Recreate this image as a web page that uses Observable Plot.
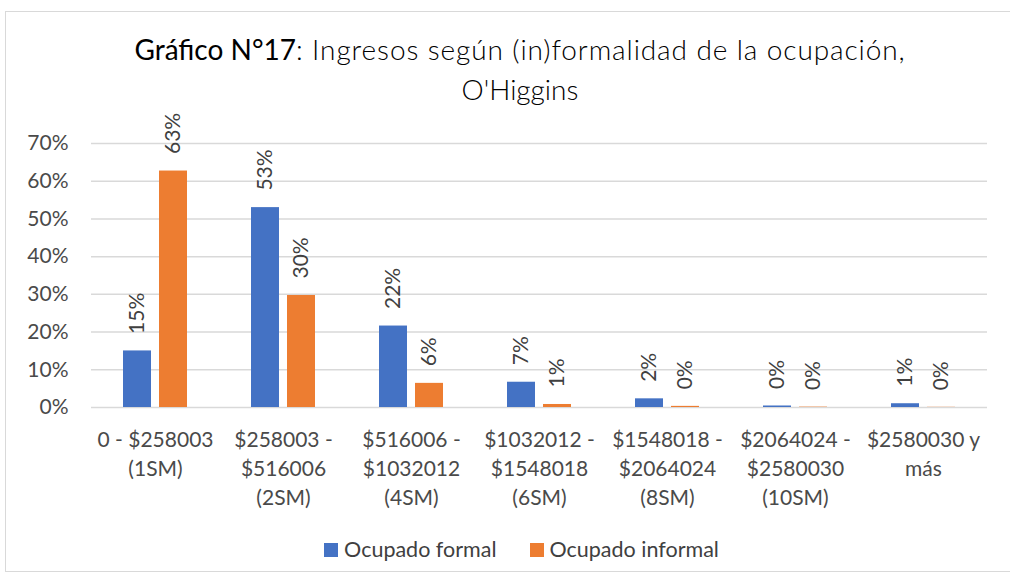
<!DOCTYPE html>
<html><head><meta charset="utf-8">
<script src="https://cdn.jsdelivr.net/npm/d3@7"></script>
<script src="https://cdn.jsdelivr.net/npm/@observablehq/plot@0.6"></script>
<style>
body{margin:0;background:#fff;}
#wrap{position:relative;width:1010px;height:579px;overflow:hidden;font-family:Lato,sans-serif;background:#fff;}
#frame{position:absolute;left:5px;top:11px;width:1010px;height:561px;border:1.5px solid #d9d9d9;box-sizing:border-box;}
#title{position:absolute;left:0;width:1040px;top:29px;text-align:center;font-size:28px;line-height:40px;color:#000;font-weight:300;}
#title b{font-weight:400;}
#title .l{letter-spacing:0.9px;}
#chart{position:absolute;left:0;top:0;}
#legend{position:absolute;left:0;width:1043px;top:536px;display:flex;justify-content:center;gap:33px;font-size:21.5px;color:#404040;}
#legend span.sw{display:inline-block;width:14px;height:14px;margin-right:6px;vertical-align:middle;position:relative;top:-2px;}
</style></head>
<body><div id="wrap"><div id="frame"></div>
<div id="title"><b>Gráfico N°17</b><span class="l">: Ingresos según (in)formalidad de la ocupación,</span><br>O'Higgins</div>
<div id="chart"></div>
<div id="legend"></div>
</div>
<script>
const categories = ["c1","c2","c3","c4","c5","c6","c7"];
const tickLabels = [
  "0 - $258003\n(1SM)",
  "$258003 -\n$516006\n(2SM)",
  "$516006 -\n$1032012\n(4SM)",
  "$1032012 -\n$1548018\n(6SM)",
  "$1548018 -\n$2064024\n(8SM)",
  "$2064024 -\n$2580030\n(10SM)",
  "$2580030 y\nmás"
];
const series = ["Ocupado formal","Ocupado informal"];
const colors = ["#4472C4","#ED7D31"];
const formal = [15.0, 53.0, 21.6, 6.7, 2.3, 0.4, 1.0];
const informal = [62.7, 29.7, 6.4, 0.8, 0.3, 0.1, 0.05];
const yTicks = [0,10,20,30,40,50,60,70];

const data = [];
categories.forEach((c,i)=>{
  data.push({cat:c, s:series[0], v:formal[i]/100});
  data.push({cat:c, s:series[1], v:informal[i]/100});
});
const labelOf = new Map(categories.map((c,i)=>[c,tickLabels[i]]));

const plot = Plot.plot({
  width:1010, height:579,
  marginLeft:90, marginRight:22, marginTop:143, marginBottom:172,
  style:{fontFamily:"Lato, sans-serif", fontSize:"21px", color:"#4a4a4a", background:"transparent"},
  fx:{domain:categories, padding:0},
  x:{domain:series, paddingInner:0.219, paddingOuter:0.867, axis:null},
  y:{domain:[0,0.7]},
  color:{domain:series, range:colors},
  marks:[
    Plot.ruleY(yTicks.map(d=>d/100), {stroke:"#d9d9d9", strokeWidth:1.5}),
    Plot.axisY(yTicks.map(d=>d/100), {tickSize:0, tickPadding:23, tickFormat:d=>Math.round(d*100)+"%", fontSize:21, fill:"#4a4a4a", label:null}),
    Plot.axisFx({anchor:"bottom", tickSize:0, tickPadding:19, lineHeight:1.38, fontSize:21, fill:"#4a4a4a", tickFormat:d=>labelOf.get(d), label:null, style:{letterSpacing:"0.4px"}}),
    Plot.barY(data, {fx:"cat", x:"s", y:"v", fill:"s"}),
    Plot.text(data, {fx:"cat", x:"s", y:"v", text:d=>Math.round(d.v*100)+"%", rotate:-90, textAnchor:"start", dy:-17, fontSize:21, fill:"#404040"})
  ]
});
document.getElementById("chart").appendChild(plot);
const lg = document.getElementById("legend");
series.forEach((s,i)=>{
  const d = document.createElement("div");
  d.innerHTML = `<span class="sw" style="background:${colors[i]}"></span>${s}`;
  lg.appendChild(d);
});
</script></body></html>
